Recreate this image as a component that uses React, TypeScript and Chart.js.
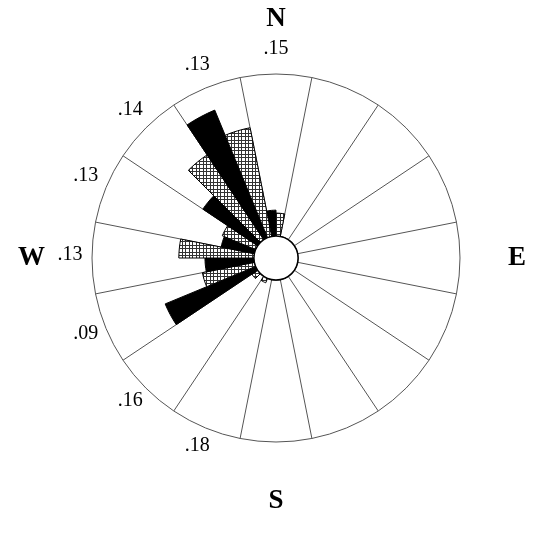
import React, { useEffect, useRef } from 'react';
import { Chart, registerables } from 'chart.js';

Chart.register(...registerables);

// 16 compass sectors, clockwise from North
const directions = ['N', 'NNE', 'NE', 'ENE', 'E', 'ESE', 'SE', 'SSE', 'S', 'SSW', 'SW', 'WSW', 'W', 'WNW', 'NW', 'NNW'];
// solid (black) half of each sector (counter-clockwise half)
const darkSeries = [7.0, 0, 0, 0, 0, 0, 0, 0, 0, 0, 0, 26.6, 13.3, 9.2, 17.9, 37.5];
// cross-hatched half of each sector (clockwise half)
const hatchSeries = [6.2, 0, 0, 0, 0, 0, 0, 0, 0, 1.3, 1.9, 14.4, 20.4, 9.8, 27.7, 30.1];
// numbers printed outside the rose
const sectorLabels = ['.15', '', '', '', '', '', '', '', '', '.18', '.16', '.09', '.13', '.13', '.14', '.13'];
const compassLetters = ['N', 'E', 'S', 'W'];
const compassSectors = [0, 4, 8, 12];

const R_MIN = -6;
const R_MAX = 44;

const labels = directions.flatMap((d) => [d + ' solid', d + ' hatched']);
const values = directions.flatMap((_, k) => [darkSeries[k], hatchSeries[k]]);

const SERIF = '"Liberation Serif", "Times New Roman", serif';

const rosePlugin = {
  id: 'roseDecor',
  afterDatasetsDraw(chart: any) {
    const s = chart.scales.r;
    const c = chart.ctx;
    const r0 = s.getDistanceFromCenterForValue(0);
    c.save();
    c.beginPath();
    c.arc(s.xCenter, s.yCenter, r0, 0, Math.PI * 2);
    c.fillStyle = '#fff';
    c.fill();
    c.lineWidth = 1.5;
    c.strokeStyle = '#000';
    c.stroke();
    c.restore();
  },
  afterDraw(chart: any) {
    const s = chart.scales.r;
    const c = chart.ctx;
    c.save();
    c.fillStyle = '#000';
    // sector numbers
    c.font = '20px ' + SERIF;
    c.textAlign = 'center';
    c.textBaseline = 'middle';
    sectorLabels.forEach((t, k) => {
      if (!t) return;
      const p = s.getPointPosition(2 * k + 1, 206);
      c.fillText(t, p.x, p.y - 3);
    });
    // compass letters
    const size = 27;
    const capH = 0.66 * size;
    c.font = 'bold ' + size + 'px ' + SERIF;
    compassLetters.forEach((t, i) => {
      const k = compassSectors[i];
      const p = s.getPointPosition(2 * k + 1, 232);
      if (t === 'N') {
        c.textAlign = 'center';
        c.textBaseline = 'alphabetic';
        c.fillText(t, p.x, p.y);
      } else if (t === 'S') {
        c.textAlign = 'center';
        c.textBaseline = 'alphabetic';
        c.fillText(t, p.x, p.y + capH);
      } else if (t === 'E') {
        c.textAlign = 'left';
        c.textBaseline = 'middle';
        c.fillText(t, p.x, p.y);
      } else {
        c.textAlign = 'right';
        c.textBaseline = 'middle';
        c.fillText(t, p.x + 1, p.y);
      }
    });
    c.restore();
  },
};

export default function App() {
  const ref = useRef<HTMLCanvasElement | null>(null);

  useEffect(() => {
    const canvas = ref.current;
    if (!canvas) return;
    const ctx = canvas.getContext('2d')!;

    const tile = document.createElement('canvas');
    tile.width = 7;
    tile.height = 7;
    const t = tile.getContext('2d')!;
    t.fillStyle = '#fff';
    t.fillRect(0, 0, 7, 7);
    t.fillStyle = '#333';
    for (const p of [0, 3]) {
      t.fillRect(p, 0, 1, 7);
      t.fillRect(0, p, 7, 1);
    }
    const pattern = ctx.createPattern(tile, 'repeat');

    const chart = new Chart(ctx, {
      type: 'polarArea',
      data: {
        labels,
        datasets: [
          {
            data: values,
            backgroundColor: (c: any) => (c.dataIndex % 2 === 0 ? '#000' : pattern),
            borderColor: '#000',
            borderWidth: 1,
          },
        ],
      },
      options: {
        responsive: false,
        maintainAspectRatio: false,
        devicePixelRatio: 1,
        animation: false,
        layout: { padding: { left: 92, top: 74, right: 74, bottom: 98 } },
        plugins: {
          legend: { display: false },
          tooltip: { enabled: false },
        },
        scales: {
          r: {
            type: 'radialLinear',
            min: R_MIN,
            max: R_MAX,
            beginAtZero: false,
            startAngle: -11.25,
            ticks: { display: false },
            pointLabels: { display: false },
            grid: {
              circular: true,
              color: '#555',
              lineWidth: (c: any) => (c.tick && c.tick.value >= R_MAX ? 1 : 0),
            },
            angleLines: {
              display: true,
              color: '#555',
              lineWidth: (c: any) => (c.index % 2 === 0 ? 1 : 0),
            },
          },
        },
      },
      plugins: [rosePlugin],
    } as any);

    return () => chart.destroy();
  }, []);

  return (
    <div style={{ position: 'fixed', left: 0, top: 0, width: 534, height: 540, background: '#fff' }}>
      <canvas ref={ref} width={534} height={540} style={{ display: 'block', width: 534, height: 540 }} />
    </div>
  );
}
